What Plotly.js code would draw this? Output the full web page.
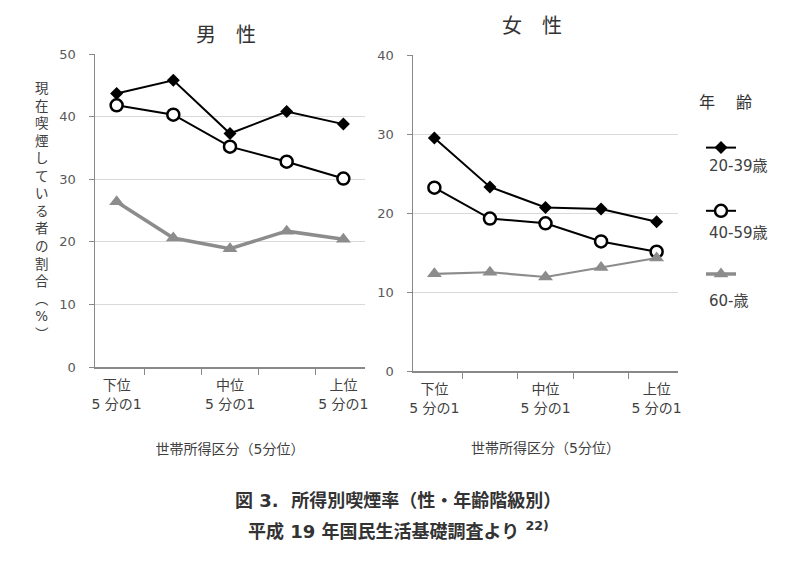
<!DOCTYPE html>
<html>
<head>
<meta charset="utf-8">
<script src="https://cdn.plot.ly/plotly-3.0.1.min.js"></script>
<style>html,body{margin:0;padding:0;background:#fff;}#chart{width:800px;height:571px;}</style>
</head>
<body>
<div id="chart"></div>
<script>
// ---- data ----
const categories = ['下位<br>5 分の1', '\u200b', '中位<br>5 分の1', '\u200b\u200b', '上位<br>5 分の1'];
const seriesNames = ['20-39歳', '40-59歳', '60-歳'];
const male_20_39 = [43.7, 45.8, 37.3, 40.8, 38.8];
const male_40_59 = [41.8, 40.3, 35.2, 32.8, 30.1];
const male_60 = [26.4, 20.6, 18.9, 21.7, 20.4];
const female_20_39 = [29.5, 23.3, 20.7, 20.5, 18.9];
const female_40_59 = [23.2, 19.3, 18.7, 16.4, 15.1];
const female_60 = [12.3, 12.5, 11.9, 13.1, 14.3];
const maleTitle = '男　性';
const femaleTitle = '女　性';
const xTitle = '世帯所得区分（5分位）';
const yTitle = '現在喫煙している者の割合︵%︶';
const legendTitle = '年　 齢';
const caption1 = '<b>図 3.  所得別喫煙率（性・年齢階級別）</b>';
const caption2 = '<b>平成 19 年国民生活基礎調査より <sup>22)</sup></b>';

// ---- styles ----
const FONT = 'DejaVu Sans, Noto Sans CJK JP, sans-serif';
const styles = [
  {line: {color: '#000', width: 2}, marker: {symbol: 'diamond', size: 10, color: '#000'}},
  {line: {color: '#000', width: 2}, marker: {symbol: 'circle', size: 12, color: '#fff', line: {color: '#000', width: 2.5}}},
  {line: {color: '#8c8c8c', width: 3.5}, marker: {symbol: 'triangle-up', size: 13, color: '#8c8c8c'}}
];
const maleData = [male_20_39, male_40_59, male_60];
const femaleData = [female_20_39, female_40_59, female_60];
const groups = ['g1', 'g2', 'g3'];

const traces = [];
maleData.forEach((vals, i) => {
  traces.push({
    type: 'scatter', mode: 'lines+markers', x: categories, y: vals,
    xaxis: 'x', yaxis: 'y', name: ' ', legendgroup: groups[i], showlegend: true,
    line: Object.assign({}, styles[i].line), marker: styles[i].marker, cliponaxis: false
  });
});
femaleData.forEach((vals, i) => {
  const ln = Object.assign({}, styles[i].line);
  if (i === 2) ln.width = 2.2;
  traces.push({
    type: 'scatter', mode: 'lines+markers', x: categories, y: vals,
    xaxis: 'x2', yaxis: 'y2', name: ' ', legendgroup: groups[i], showlegend: false,
    line: ln, marker: styles[i].marker, cliponaxis: false
  });
});

const W = 800, H = 571;
const px = x => x / W;
const py = y => 1 - y / H;

function xAxis(domain, anchor, standoff) {
  return {
    domain: domain, anchor: anchor, type: 'category', tickson: 'boundaries',
    ticks: 'outside', ticklen: 6, tickcolor: '#888', tickwidth: 1, tickangle: 0,
    showline: true, linecolor: '#888', linewidth: 1.5, showgrid: false, zeroline: false,
    tickfont: {family: FONT, size: 14, color: '#404040'}, ticklabelstandoff: 5, fixedrange: true,
    title: {text: xTitle, font: {family: FONT, size: 14, color: '#404040'}, standoff: standoff}
  };
}
function yAxis(domain, anchor, range) {
  return {
    domain: domain, anchor: anchor, range: range, dtick: 10, tick0: 0,
    ticks: 'outside', ticklen: 5, tickcolor: '#888',
    showline: true, linecolor: '#888', linewidth: 1.5,
    showgrid: true, gridcolor: '#d9d9d9', gridwidth: 1, zeroline: false,
    tickfont: {family: FONT, size: 13, color: '#595959'}, ticklabelstandoff: 10, fixedrange: true
  };
}

function ann(text, x, y, size, color, xanchor) {
  return {text: text, x: px(x), y: py(y), xref: 'paper', yref: 'paper', showarrow: false,
    xanchor: xanchor || 'center', yanchor: 'middle', font: {family: FONT, size: size, color: color}};
}

const layout = {
  width: W, height: H,
  margin: {l: 0, r: 0, t: 0, b: 0},
  paper_bgcolor: '#fff', plot_bgcolor: '#fff',
  font: {family: FONT},
  xaxis: xAxis([px(95), px(365)], 'y', 33),
  yaxis: yAxis([py(367), py(54)], 'x', [0, 50]),
  xaxis2: xAxis([px(413), px(678)], 'y2', 28),
  yaxis2: yAxis([py(371), py(55)], 'x2', [0, 40]),
  showlegend: true,
  legend: {
    x: px(701), y: py(132), xanchor: 'left', yanchor: 'top',
    bgcolor: 'rgba(0,0,0,0)', font: {family: FONT, size: 14}, tracegroupgap: 42,
    itemwidth: 30, itemclick: false, itemdoubleclick: false
  },
  annotations: [
    ann(maleTitle, 226, 35, 20, '#333'),
    ann(femaleTitle, 532, 26, 20, '#333'),
    ann(yTitle.split('').join('<br>'), 42, 211, 13.5, '#404040'),
    ann(legendTitle, 697, 103, 16, '#333', 'left'),
    ann(seriesNames[0], 707, 166, 15, '#404040', 'left'),
    ann(seriesNames[1], 707, 233, 15, '#404040', 'left'),
    ann(seriesNames[2], 707, 301, 15, '#404040', 'left'),
    ann(caption1, 398, 500, 18, '#333'),
    ann(caption2, 398, 530, 18, '#333')
  ]
};

Plotly.newPlot('chart', traces, layout, {displayModeBar: false, staticPlot: true});
</script>
</body>
</html>
